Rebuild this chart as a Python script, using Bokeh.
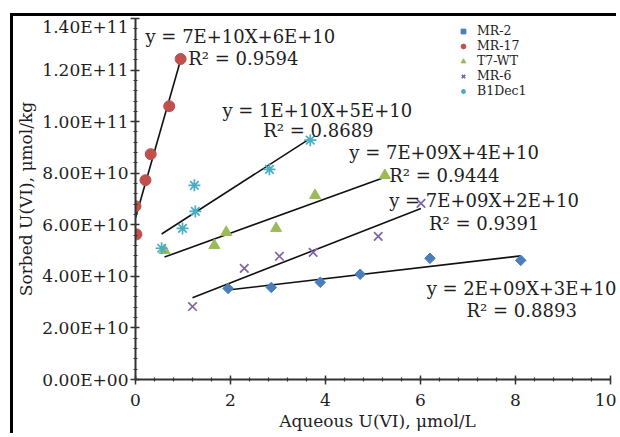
import numpy as np
from bokeh.plotting import figure
from bokeh.models import FixedTicker, Label, Legend, LegendItem
from bokeh.embed import file_html
from bokeh.resources import INLINE

# ---------------- data ----------------
series_names = ["MR-2", "MR-17", "T7-WT", "MR-6", "B1Dec1"]

mr2_x = [1.95, 2.86, 3.89, 4.73, 6.20, 8.11]
mr2_y = [3.53e10, 3.57e10, 3.77e10, 4.08e10, 4.70e10, 4.62e10]

mr17_x = [0.02, 0.00, 0.21, 0.32, 0.71, 0.95]
mr17_y = [5.63e10, 6.72e10, 7.73e10, 8.74e10, 1.06e11, 1.243e11]

t7_x = [0.61, 1.66, 1.91, 2.96, 3.78, 5.25]
t7_y = [5.01e10, 5.20e10, 5.71e10, 5.86e10, 7.14e10, 7.92e10]

mr6_x = [1.20, 2.29, 3.03, 3.74, 5.11, 6.01]
mr6_y = [2.83e10, 4.31e10, 4.78e10, 4.93e10, 5.55e10, 6.83e10]

b1_x = [0.55, 0.99, 1.26, 1.24, 2.82, 3.68]
b1_y = [5.09e10, 5.86e10, 6.52e10, 7.53e10, 8.15e10, 9.28e10]

eq_texts = ["y = 2E+09X+3E+10", "y = 7E+10X+6E+10", "y = 7E+09X+4E+10",
            "y = 7E+09X+2E+10", "y = 1E+10X+5E+10"]
r2_texts = ["R\u00b2 = 0.8893", "R\u00b2 = 0.9594", "R\u00b2 = 0.9444",
            "R\u00b2 = 0.9391", "R\u00b2 = 0.8689"]

x_ticks = [0, 2, 4, 6, 8, 10]
y_ticks = [0.0, 2e10, 4e10, 6e10, 8e10, 1e11, 1.2e11, 1.4e11]
y_tick_labels = ["0.00E+00", "2.00E+10", "4.00E+10", "6.00E+10", "8.00E+10",
                 "1.00E+11", "1.20E+11", "1.40E+11"]
x_label = "Aqueous U(VI), \u03bcmol/L"
y_label = "Sorbed U(VI), \u03bcmol/kg"

# ---------------- styling ----------------
FONT = "DejaVu Serif"
TXT = "#1e1e1e"
colors = ["#4a7ebb", "#c0504d", "#9bbb59", "#8064a2", "#4bacc6"]
markers = ["square", "circle", "triangle", "x", "asterisk"]
sizes = [7.5, 11, 11, 12, 12]
angles = [np.pi / 4, 0, 0, 0, 0]

# text placement (data coords) for equation / R^2 labels
eq_pos = [(6.13, 3.53e10), (0.21, 1.332e11), (4.50, 8.81e10), (5.34, 6.95e10), (1.83, 1.045e11)]
r2_pos = [(6.97, 2.68e10), (1.11, 1.246e11), (5.34, 7.92e10), (6.18, 6.06e10), (2.69, 9.67e10)]

p = figure(width=606, height=420, x_range=(0, 10.19), y_range=(0, 1.4e11),
           output_backend="svg", toolbar_location=None,
           min_border_left=120, min_border_right=0, min_border_top=2, min_border_bottom=57)
# black edge lines at the picture's left and top
p.styles = {"margin-left": "10px", "margin-top": "13px",
            "border-left": "3px solid black", "border-top": "3px solid black"}
p.xgrid.visible = False
p.ygrid.visible = False
p.outline_line_color = None
p.background_fill_color = "white"
p.border_fill_color = "white"

# axes
p.xaxis.ticker = FixedTicker(ticks=x_ticks, minor_ticks=[float(v) for v in np.arange(0, 10.01, 0.4)])
p.xaxis.bounds = (0, 10)
p.yaxis.ticker = FixedTicker(ticks=y_ticks, minor_ticks=[float(v) for v in np.arange(0, 1.4e11 + 1, 4e9)])
p.yaxis.major_label_overrides = {t: lab for t, lab in zip(y_ticks, y_tick_labels)}

for ax in (p.xaxis, p.yaxis):
    ax.axis_line_color = "#333333"
    ax.axis_line_width = 2
    ax.major_tick_line_color = "#333333"
    ax.minor_tick_line_color = "#333333"
    ax.major_tick_line_width = 1.5
    ax.minor_tick_line_width = 1.2
    ax.major_tick_in = 4
    ax.major_tick_out = 5
    ax.minor_tick_in = 2
    ax.minor_tick_out = 2
    ax.major_label_text_font = FONT
    ax.major_label_text_font_size = "17px"
    ax.major_label_text_color = TXT
    ax.axis_label_text_font = FONT
    ax.axis_label_text_font_size = "17px"
    ax.axis_label_text_font_style = "normal"
    ax.axis_label_text_color = TXT

p.xaxis.major_label_standoff = 9
p.yaxis.major_label_standoff = 2
p.yaxis.axis_label = y_label
p.yaxis.axis_label_standoff = 3
p.xaxis.axis_label = x_label
p.xaxis.axis_label_standoff = 2

all_x = [mr2_x, mr17_x, t7_x, mr6_x, b1_x]
all_y = [mr2_y, mr17_y, t7_y, mr6_y, b1_y]

items = []
for i, (xs, ys) in enumerate(zip(all_x, all_y)):
    xs_a = np.array(xs)
    ys_a = np.array(ys)
    slope, icpt = np.polyfit(xs_a, ys_a, 1)
    lx = [float(xs_a.min()), float(xs_a.max())]
    ly = [slope * v + icpt for v in lx]
    p.line(lx, ly, line_color="#111111", line_width=1.6)

for i, (xs, ys) in enumerate(zip(all_x, all_y)):
    m = markers[i]
    if m in ("x", "asterisk"):
        r = p.scatter(xs, ys, marker=m, size=sizes[i], line_color=colors[i], line_width=1.7)
    else:
        r = p.scatter(xs, ys, marker=m, size=sizes[i], angle=angles[i],
                      fill_color=colors[i], line_color=colors[i])
    items.append(LegendItem(label=series_names[i], renderers=[r]))

for i in range(5):
    p.add_layout(Label(x=eq_pos[i][0], y=eq_pos[i][1], text=eq_texts[i], text_font=FONT,
                       text_font_size="18px", text_color=TXT, text_align="left",
                       text_baseline="alphabetic"))
    p.add_layout(Label(x=r2_pos[i][0], y=r2_pos[i][1], text=r2_texts[i], text_font=FONT,
                       text_font_size="18px", text_color=TXT, text_align="left",
                       text_baseline="alphabetic"))

legend = Legend(items=items, location=(322, 281))
legend.border_line_color = None
legend.background_fill_alpha = 0
legend.label_text_font = FONT
legend.label_text_font_size = "12.5px"
legend.label_text_color = TXT
legend.glyph_width = 12
legend.glyph_height = 14
legend.label_height = 14
legend.spacing = 0
legend.padding = 0
legend.margin = 0
legend.label_standoff = 8
p.add_layout(legend)

open("out.html", "w").write(file_html(p, INLINE))
